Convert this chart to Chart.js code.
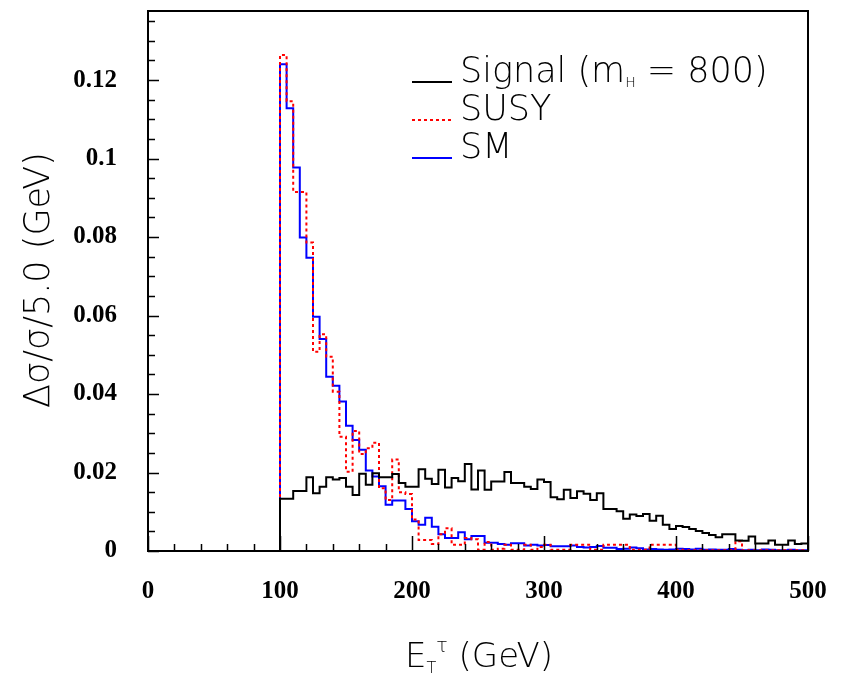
<!DOCTYPE html>
<html>
<head>
<meta charset="utf-8">
<script src="https://cdn.jsdelivr.net/npm/chart.js@4.4.1/dist/chart.umd.min.js"></script>
<style>
  html, body { margin: 0; padding: 0; background: #fff; }
  #wrap { width: 844px; height: 680px; }
</style>
</head>
<body>
<div id="wrap"><canvas id="etChart" width="844" height="680"></canvas></div>
<script>
// ---------- data: normalised E_T(tau) spectra, 5 GeV bins starting at the 100 GeV cut ----------
const binWidth = 5;
const firstBin = 100;

const signal = [
  0.0133, 0.0133, 0.0153, 0.0153, 0.0188, 0.0147, 0.0164, 0.0188, 0.0182, 0.0186,
  0.0164, 0.0143, 0.0197, 0.0169, 0.0198, 0.0188, 0.0188, 0.0196, 0.0173, 0.0164,
  0.0164, 0.0208, 0.0184, 0.0171, 0.0207, 0.0162, 0.0186, 0.0178, 0.0222, 0.0157,
  0.0205, 0.0156, 0.0177, 0.0177, 0.0201, 0.0173, 0.0173, 0.0164, 0.0158, 0.0182,
  0.0176, 0.0137, 0.0132, 0.0156, 0.0135, 0.0152, 0.0146, 0.0130, 0.0147, 0.0107,
  0.0107, 0.0101, 0.0082, 0.0093, 0.0089, 0.0094, 0.0077, 0.0090, 0.0067, 0.0056,
  0.0064, 0.0061, 0.0056, 0.0051, 0.0046, 0.0041, 0.0035, 0.0043, 0.0043, 0.0027,
  0.0026, 0.0037, 0.0019, 0.0019, 0.0027, 0.0016, 0.0016, 0.0027, 0.0018, 0.0019
];

const susy = [
  0.1264, 0.1146, 0.0915, 0.0915, 0.0786, 0.0508, 0.0552, 0.0495, 0.0406, 0.0291,
  0.0202, 0.0306, 0.0247, 0.0262, 0.0276, 0.0160, 0.0130, 0.0233, 0.0150, 0.0145,
  0.0080, 0.0028, 0.0028, 0.0018, 0.0043, 0.0058, 0.0016, 0.0016, 0.0033, 0.0030,
  0.0003, 0.0023, 0.0003, 0.0006, 0.0016, 0.0003, 0.0003, 0.0016, 0.0003, 0.0010,
  0.0016, 0.0003, 0.0003, 0.0003, 0.0016, 0.0016, 0.0016, 0.0003, 0.0003, 0.0016,
  0.0016, 0.0016, 0.0016, 0.0003, 0.0003, 0.0003, 0.0016, 0.0016, 0.0016, 0.0016,
  0.0003, 0.0002, 0.0002, 0.0002, 0.0002, 0.0002, 0.0002, 0.0002, 0.0002, 0.0025,
  0.0002, 0.0002, 0.0002, 0.0002, 0.0002, 0.0002, 0.0002, 0.0002, 0.0002, 0.0002
];

const sm = [
  0.1240, 0.1128, 0.0977, 0.0799, 0.0747, 0.0597, 0.0540, 0.0444, 0.0421, 0.0381,
  0.0319, 0.0283, 0.0258, 0.0205, 0.0190, 0.0165, 0.0118, 0.0129, 0.0129, 0.0107,
  0.0076, 0.0067, 0.0085, 0.0062, 0.0043, 0.0033, 0.0033, 0.0048, 0.0030, 0.0038,
  0.0038, 0.0021, 0.0021, 0.0018, 0.0016, 0.0020, 0.0020, 0.0014, 0.0016, 0.0014,
  0.0015, 0.0012, 0.0012, 0.0012, 0.0014, 0.0010, 0.0009, 0.0010, 0.0013, 0.0008,
  0.0008, 0.0005, 0.0006, 0.0009, 0.0007, 0.0004, 0.0005, 0.0004, 0.0003, 0.0004,
  0.0006, 0.0005, 0.0004, 0.0006, 0.0003, 0.0004, 0.0003, 0.0003, 0.0005, 0.0003,
  0.0002, 0.0003, 0.0002, 0.0004, 0.0003, 0.0002, 0.0002, 0.0003, 0.0002, 0.0002
];

const xTicks = [0, 100, 200, 300, 400, 500];
const xMinorStep = 20;
const yTicks = [0, 0.02, 0.04, 0.06, 0.08, 0.1, 0.12];
const yLabels = ["0", "0.02", "0.04", "0.06", "0.08", "0.1", "0.12"];
const yMinorStep = 0.005;
const xMax = 500;
const yMax = 0.1376;

// histogram -> step points (value holds until the next edge)
function histPoints(vals) {
  const pts = [{ x: 0, y: 0 }];
  vals.forEach((v, i) => pts.push({ x: firstBin + i * binWidth, y: v }));
  pts.push({ x: firstBin + vals.length * binWidth, y: vals[vals.length - 1] });
  return pts;
}

const TITLE_FONT = "'DejaVu Sans'";
const TITLE_WEIGHT = 200;

// draws a run of text pieces (for sub/superscripts); returns total width
function drawRich(ctx, parts, x, y, measureOnly) {
  let cx = x;
  parts.forEach((p) => {
    ctx.font = `${TITLE_WEIGHT} ${p.size}px ${TITLE_FONT}`;
    if (!measureOnly) ctx.fillText(p.t, cx, y + (p.dy || 0));
    cx += ctx.measureText(p.t).width;
  });
  return cx - x;
}

// scales should not reserve extra room for half-labels
function noPad(s) {
  s.paddingTop = 0;
  s.paddingBottom = 0;
  s.paddingLeft = 0;
  s.paddingRight = 0;
}

// ---------- frame, ticks, titles, legend ----------
const decorations = {
  id: "decorations",
  afterDatasetsDraw(chart) {
    const { ctx, chartArea: a, scales } = chart;
    const xs = scales.x, ys = scales.y;
    ctx.save();
    ctx.strokeStyle = "#000";
    ctx.lineWidth = 2;
    ctx.strokeRect(a.left, a.top, a.right - a.left, a.bottom - a.top);

    // y ticks pointing into the plot
    ctx.lineWidth = 1.5;
    ctx.beginPath();
    for (let v = 0; v <= yMax + 1e-9; v += yMinorStep) {
      const major = yTicks.some((t) => Math.abs(t - v) < 1e-6);
      const py = Math.round(ys.getPixelForValue(v)) + 0.5;
      ctx.moveTo(a.left, py);
      ctx.lineTo(a.left + (major ? 11 : 7), py);
    }
    // x ticks pointing up
    for (let v = 0; v <= xMax; v += xMinorStep) {
      const major = xTicks.includes(v);
      const px = Math.round(xs.getPixelForValue(v)) + 0.5;
      ctx.moveTo(px, a.bottom);
      ctx.lineTo(px, a.bottom - (major ? 15 : 7));
    }
    ctx.stroke();
    ctx.restore();
  },
  afterDraw(chart) {
    const ctx = chart.ctx;
    ctx.save();
    ctx.fillStyle = "#000";
    ctx.textBaseline = "alphabetic";
    ctx.textAlign = "left";

    // x title
    const xParts = [
      { t: "E", size: 34 },
      { t: "T", size: 16, dy: 6 },
      { t: "\u03C4", size: 19, dy: -15 },
      { t: " (GeV)", size: 34 }
    ];
    const xw = drawRich(ctx, xParts, 0, 0, true);
    drawRich(ctx, xParts, 479 - xw / 2, 667);

    // y title (rotated)
    const yParts = [{ t: "\u0394\u03C3/\u03C3/5.0 (GeV)", size: 35 }];
    const yw = drawRich(ctx, yParts, 0, 0, true);
    ctx.translate(49, 280);
    ctx.rotate(-Math.PI / 2);
    drawRich(ctx, yParts, -yw / 2, 0);
    ctx.setTransform(1, 0, 0, 1, 0, 0);

    // legend
    const rows = [
      { parts: [{ t: "Signal (m", size: 35 }, { t: "H", size: 14, dy: 5 }, { t: " = 800)", size: 35 }], color: "#000", dash: [] },
      { parts: [{ t: "SUSY", size: 35 }], color: "#ff0000", dash: [3, 3] },
      { parts: [{ t: "SM", size: 35 }], color: "#0000ff", dash: [] }
    ];
    rows.forEach((r, i) => {
      const y = 82 + i * 38;
      ctx.strokeStyle = r.color;
      ctx.lineWidth = 2;
      ctx.setLineDash(r.dash);
      ctx.beginPath();
      ctx.moveTo(412, y);
      ctx.lineTo(452, y);
      ctx.stroke();
      ctx.setLineDash([]);
      drawRich(ctx, r.parts, 460, y);
    });
    ctx.restore();
  }
};

const lineDefaults = { pointRadius: 0, borderWidth: 2, stepped: true, fill: false, tension: 0 };

new Chart(document.getElementById("etChart"), {
  type: "line",
  data: {
    datasets: [
      { label: "Signal (m_H = 800)", data: histPoints(signal), borderColor: "#000000", ...lineDefaults },
      { label: "SUSY", data: histPoints(susy), borderColor: "#ff0000", borderDash: [3, 3], ...lineDefaults },
      { label: "SM", data: histPoints(sm), borderColor: "#0000ff", ...lineDefaults }
    ]
  },
  options: {
    responsive: false,
    animation: false,
    devicePixelRatio: 1,
    layout: { padding: { left: 0, right: 36, top: 11, bottom: 0 } },
    plugins: { legend: { display: false }, tooltip: { enabled: false } },
    scales: {
      x: {
        type: "linear",
        min: 0,
        max: xMax,
        grid: { display: false, drawTicks: false },
        border: { display: false },
        afterBuildTicks: (s) => { s.ticks = xTicks.map((v) => ({ value: v })); },
        afterFit: (s) => { s.height = 129; noPad(s); },
        ticks: {
          padding: 26,
          color: "#000",
          maxRotation: 0,
          font: { family: "Liberation Serif", weight: "bold", size: 25 },
          callback: (v) => String(v)
        }
      },
      y: {
        min: 0,
        max: yMax,
        grid: { display: false, drawTicks: false },
        border: { display: false },
        afterBuildTicks: (s) => { s.ticks = yTicks.map((v) => ({ value: v })); },
        afterFit: (s) => { s.width = 148; noPad(s); },
        ticks: {
          padding: 31,
          color: "#000",
          font: { family: "Liberation Serif", weight: "bold", size: 25 },
          callback: (v) => yLabels[yTicks.findIndex((t) => Math.abs(t - v) < 1e-9)]
        }
      }
    }
  },
  plugins: [decorations]
});
</script>
</body>
</html>
